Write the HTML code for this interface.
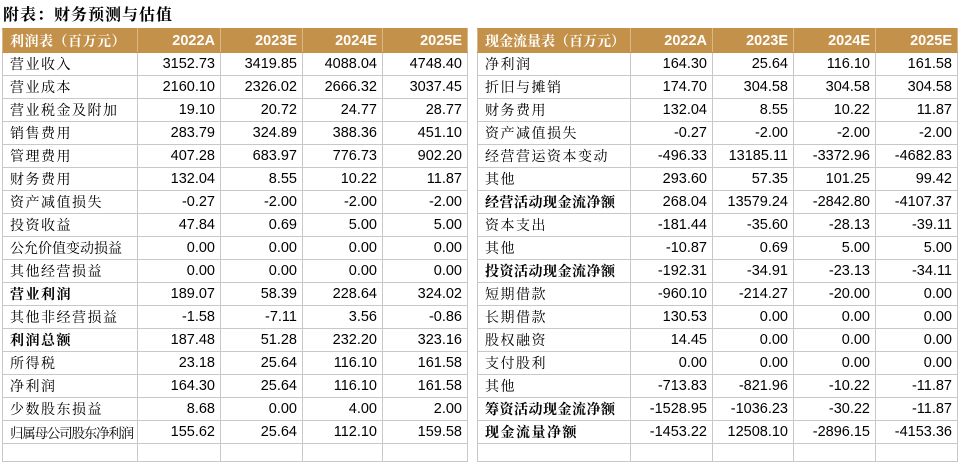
<!DOCTYPE html>
<html><head><meta charset="utf-8"><style>
body{margin:0;width:959px;height:460px;background:#fff;overflow:hidden;position:relative;font-family:"Liberation Sans",sans-serif}
.title{position:absolute;left:3px;top:2px;font:bold 16px "Noto Serif CJK SC","Liberation Serif",serif;color:#000;letter-spacing:1px}
table{position:absolute;top:28px;border-collapse:collapse;table-layout:fixed}
td{border:1px solid #c8c8c8;height:22px;padding:0 5px 0 0;text-align:right;font-size:14.5px;color:#000;white-space:nowrap;overflow:hidden}
td.l{text-align:left;padding:0 0 0 7px;font-family:"Liberation Serif","Noto Serif CJK SC",serif;font-size:14px;letter-spacing:1.5px}
tr.h td{background:#c4914a;color:#fff;font-weight:bold;height:23px;border-color:#c4914a #d8b88a}
tr.h td.l{color:#fff;letter-spacing:0.5px}
td.b{font-weight:bold}
tr.e td{height:17px}
</style></head><body>
<div class="title">附表：财务预测与估值</div>
<table style="left:2px;width:465px">
<colgroup><col style="width:135px"><col style="width:83px"><col style="width:82px"><col style="width:80px"><col style="width:85px"></colgroup>
<tr class="h"><td class="l">利润表（百万元）</td><td>2022A</td><td>2023E</td><td>2024E</td><td>2025E</td></tr>
<tr><td class="l">营业收入</td><td>3152.73</td><td>3419.85</td><td>4088.04</td><td>4748.40</td></tr>
<tr><td class="l">营业成本</td><td>2160.10</td><td>2326.02</td><td>2666.32</td><td>3037.45</td></tr>
<tr><td class="l">营业税金及附加</td><td>19.10</td><td>20.72</td><td>24.77</td><td>28.77</td></tr>
<tr><td class="l">销售费用</td><td>283.79</td><td>324.89</td><td>388.36</td><td>451.10</td></tr>
<tr><td class="l">管理费用</td><td>407.28</td><td>683.97</td><td>776.73</td><td>902.20</td></tr>
<tr><td class="l">财务费用</td><td>132.04</td><td>8.55</td><td>10.22</td><td>11.87</td></tr>
<tr><td class="l">资产减值损失</td><td>-0.27</td><td>-2.00</td><td>-2.00</td><td>-2.00</td></tr>
<tr><td class="l">投资收益</td><td>47.84</td><td>0.69</td><td>5.00</td><td>5.00</td></tr>
<tr><td class="l" style="letter-spacing:0">公允价值变动损益</td><td>0.00</td><td>0.00</td><td>0.00</td><td>0.00</td></tr>
<tr><td class="l">其他经营损益</td><td>0.00</td><td>0.00</td><td>0.00</td><td>0.00</td></tr>
<tr><td class="l b">营业利润</td><td>189.07</td><td>58.39</td><td>228.64</td><td>324.02</td></tr>
<tr><td class="l">其他非经营损益</td><td>-1.58</td><td>-7.11</td><td>3.56</td><td>-0.86</td></tr>
<tr><td class="l b">利润总额</td><td>187.48</td><td>51.28</td><td>232.20</td><td>323.16</td></tr>
<tr><td class="l">所得税</td><td>23.18</td><td>25.64</td><td>116.10</td><td>161.58</td></tr>
<tr><td class="l">净利润</td><td>164.30</td><td>25.64</td><td>116.10</td><td>161.58</td></tr>
<tr><td class="l">少数股东损益</td><td>8.68</td><td>0.00</td><td>4.00</td><td>2.00</td></tr>
<tr><td class="l" style="letter-spacing:-1.2px;font-size:13.5px">归属母公司股东净利润</td><td>155.62</td><td>25.64</td><td>112.10</td><td>159.58</td></tr>
<tr class="e"><td></td><td></td><td></td><td></td><td></td></tr>
</table>
<table style="left:477px;width:480px">
<colgroup><col style="width:153px"><col style="width:82px"><col style="width:81px"><col style="width:82px"><col style="width:82px"></colgroup>
<tr class="h"><td class="l" style="letter-spacing:0">现金流量表（百万元）</td><td>2022A</td><td>2023E</td><td>2024E</td><td>2025E</td></tr>
<tr><td class="l">净利润</td><td>164.30</td><td>25.64</td><td>116.10</td><td>161.58</td></tr>
<tr><td class="l">折旧与摊销</td><td>174.70</td><td>304.58</td><td>304.58</td><td>304.58</td></tr>
<tr><td class="l">财务费用</td><td>132.04</td><td>8.55</td><td>10.22</td><td>11.87</td></tr>
<tr><td class="l">资产减值损失</td><td>-0.27</td><td>-2.00</td><td>-2.00</td><td>-2.00</td></tr>
<tr><td class="l">经营营运资本变动</td><td>-496.33</td><td>13185.11</td><td>-3372.96</td><td>-4682.83</td></tr>
<tr><td class="l">其他</td><td>293.60</td><td>57.35</td><td>101.25</td><td>99.42</td></tr>
<tr><td class="l b" style="letter-spacing:0.5px">经营活动现金流净额</td><td>268.04</td><td>13579.24</td><td>-2842.80</td><td>-4107.37</td></tr>
<tr><td class="l">资本支出</td><td>-181.44</td><td>-35.60</td><td>-28.13</td><td>-39.11</td></tr>
<tr><td class="l">其他</td><td>-10.87</td><td>0.69</td><td>5.00</td><td>5.00</td></tr>
<tr><td class="l b" style="letter-spacing:0.5px">投资活动现金流净额</td><td>-192.31</td><td>-34.91</td><td>-23.13</td><td>-34.11</td></tr>
<tr><td class="l">短期借款</td><td>-960.10</td><td>-214.27</td><td>-20.00</td><td>0.00</td></tr>
<tr><td class="l">长期借款</td><td>130.53</td><td>0.00</td><td>0.00</td><td>0.00</td></tr>
<tr><td class="l">股权融资</td><td>14.45</td><td>0.00</td><td>0.00</td><td>0.00</td></tr>
<tr><td class="l">支付股利</td><td>0.00</td><td>0.00</td><td>0.00</td><td>0.00</td></tr>
<tr><td class="l">其他</td><td>-713.83</td><td>-821.96</td><td>-10.22</td><td>-11.87</td></tr>
<tr><td class="l b" style="letter-spacing:0.5px">筹资活动现金流净额</td><td>-1528.95</td><td>-1036.23</td><td>-30.22</td><td>-11.87</td></tr>
<tr><td class="l b">现金流量净额</td><td>-1453.22</td><td>12508.10</td><td>-2896.15</td><td>-4153.36</td></tr>
<tr class="e"><td></td><td></td><td></td><td></td><td></td></tr>
</table>
</body></html>
